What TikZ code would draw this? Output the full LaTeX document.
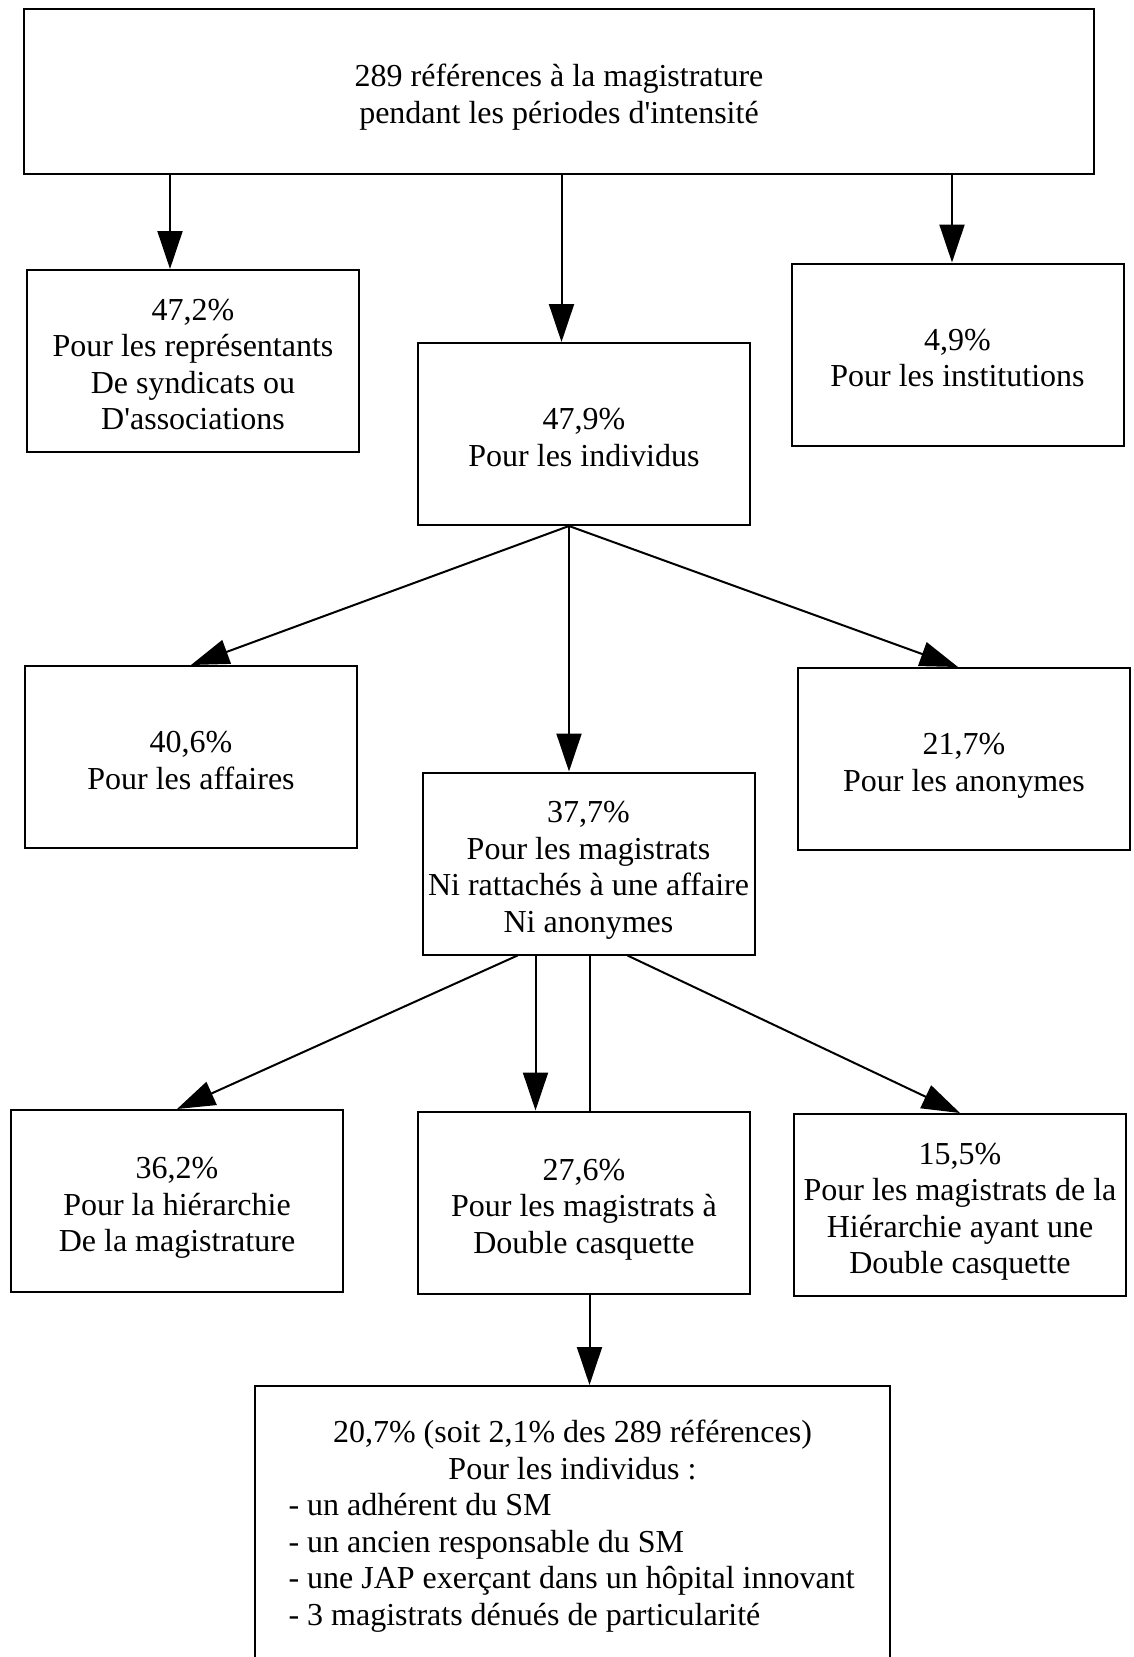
\documentclass[tikz,border=0pt]{standalone}
\usepackage{fontspec}
\setmainfont{Liberation Serif}[Ligatures=TeXOff]
\usetikzlibrary{arrows.meta}
\newcommand{\cale}{\rule{0pt}{28pt}}

\begin{document}
\begin{tikzpicture}[x=1pt,y=-1pt,
    cadre/.style={draw,line width=2pt,inner sep=2pt,font=\fontsize{32}{36.5}\selectfont},
    boite/.style={cadre,minimum width=332pt,minimum height=182pt,align=center,text depth=0pt},
    fleche/.style={-{Triangle[length=38pt,width=25pt]},line width=2pt}]

    \useasboundingbox(0,0)rectangle(1134,1657);

    \node[boite,minimum width=1070pt,minimum height=165pt](ref)at(559,91){\cale 289 références à la magistrature\\pendant les périodes d'intensité};

    \node[boite](syn)at(193,361){\cale 47,2\%\\Pour les représentants\\De syndicats ou\\D'associations};
    \node[boite](ind)at(584,434){\cale 47,9\%\\Pour les individus};
    \node[boite](inst)at(957.5,354.5){\cale 4,9\%\\Pour les institutions};

    \node[boite](aff)at(191,757){\cale 40,6\%\\Pour les affaires};
    \node[boite](mag)at(588.5,863.5){\cale 37,7\%\\Pour les magistrats\\Ni rattachés à une affaire\\Ni anonymes};
    \node[boite](ano)at(964,759){\cale 21,7\%\\Pour les anonymes};

    \node[boite](hie)at(177,1201){\cale 36,2\%\\Pour la hiérarchie\\De la magistrature};
    \node[boite](dc)at(584,1202.5){\cale 27,6\%\\Pour les magistrats à\\Double casquette};
    \node[boite](hdc)at(960,1205){\cale 15,5\%\\Pour les magistrats de la\\Hiérarchie ayant une\\Double casquette};

    \node[cadre,minimum width=635pt,minimum height=280pt,text width=568pt,align=left](detail)at(572.5,1526){\spaceskip=0pt\xspaceskip=0pt\centering 20,7\% (soit 2,1\% des 289 références)\\Pour les individus :\par\raggedright - un adhérent du SM\\- un ancien responsable du SM\\- une JAP exerçant dans un hôpital innovant\\- 3 magistrats dénués de particularité};

    \draw[fleche]([xshift=-389pt]ref.south)--([xshift=-23pt]syn.north);
    \draw[fleche]([xshift=2.5pt]ref.south)--([xshift=-22.5pt]ind.north);
    \draw[fleche]([xshift=393pt]ref.south)--([xshift=-5.5pt]inst.north);

    \draw[fleche]([xshift=-15pt]ind.south)--(aff.north);
    \draw[fleche]([xshift=-15pt]ind.south)--([xshift=-19.5pt]mag.north);
    \draw[fleche]([xshift=-15pt]ind.south)--([xshift=-6pt]ano.north);

    \draw[fleche]([xshift=-71pt]mag.south)--(hie.north);
    \draw[fleche]([xshift=-53pt]mag.south)--([xshift=-48.5pt]dc.north);
    \draw[line width=2pt]([xshift=1pt]mag.south)--([xshift=5.5pt]dc.north);
    \draw[fleche]([xshift=39pt]mag.south)--(hdc.north);

    \draw[fleche]([xshift=5.5pt]dc.south)--([xshift=17pt]detail.north);

\end{tikzpicture}
\end{document}
